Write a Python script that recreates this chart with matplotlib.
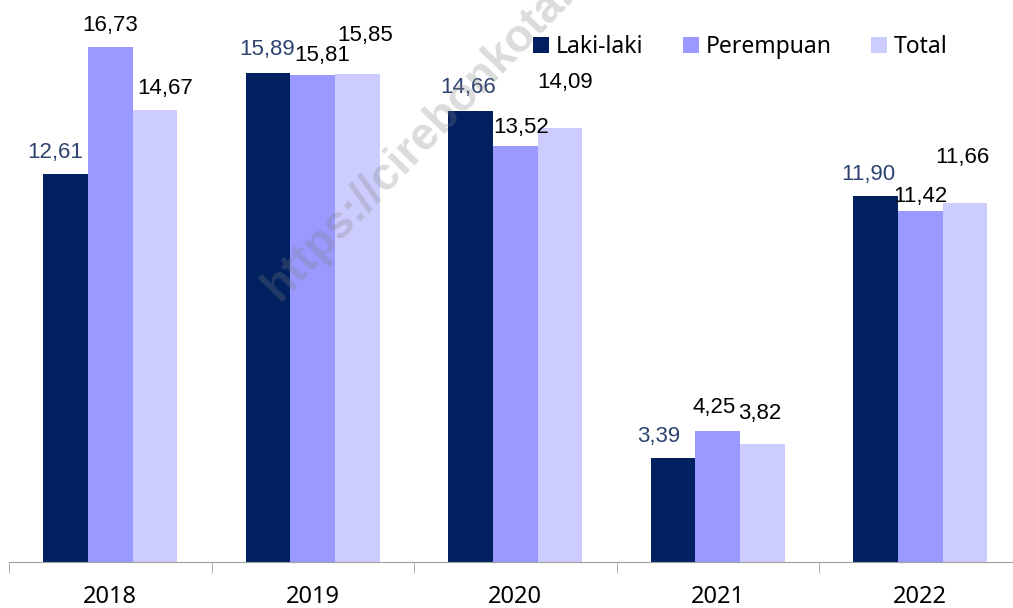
import numpy as np
import matplotlib.pyplot as plt

years = ['2018', '2019', '2020', '2021', '2022']
laki = [12.61, 15.89, 14.66, 3.39, 11.90]
perempuan = [16.73, 15.81, 13.52, 4.25, 11.42]
total = [14.67, 15.85, 14.09, 3.82, 11.66]

series = [('Laki-laki', laki, '#002060'),
          ('Perempuan', perempuan, '#9999FF'),
          ('Total', total, '#CCCCFF')]

# label offsets in pixels (dx, dy from bar top), like the hand-moved excel labels
offsets = [
    [(-10, 21), (-1, 23), (-2, 23), (-14, 21), (-7, 21)],
    [(0, 22), (9, 20), (6, 18), (-4, 24), (0, 14)],
    [(10, 22), (8, 39), (5, 46), (-3, 31), (-3, 46)],
]
label_colors = ['#2E4370', 'black', 'black']

fig = plt.figure(figsize=(10.13, 6.08), dpi=100)
ax = fig.add_axes([9 / 1013, 46 / 608, 1004 / 1013, 562 / 608])

x = np.arange(len(years))
w = 0.221
for i, (name, vals, col) in enumerate(series):
    pos = x + (i - 1) * w
    ax.bar(pos, vals, w, color=col, label=name, zorder=2)
    for j, v in enumerate(vals):
        dx, dy = offsets[i][j]
        ax.annotate(('%.2f' % v).replace('.', ','), (pos[j], v),
                    xytext=(dx, dy), textcoords='offset pixels',
                    ha='center', va='center', fontsize=16,
                    family='Liberation Sans', color=label_colors[i])

ax.set_xlim(-0.5, 4.458)
ax.set_ylim(0, 18.26)
for s in ['top', 'right', 'left']:
    ax.spines[s].set_visible(False)
ax.spines['bottom'].set_color('#A0A0A0')
ax.set_yticks([])
ax.set_xticks(x)
ax.set_xticklabels(years, fontsize=17, family='Noto Sans')
ax.tick_params(axis='x', which='major', length=0, pad=16.5)
ax.set_xticks(np.arange(-0.5, 4.5, 1), minor=True)
ax.tick_params(axis='x', which='minor', length=8, color='#A0A0A0')

ax.legend(loc='upper right', bbox_to_anchor=(0.955, 0.975), ncol=3, frameon=False,
          prop={'family': 'Noto Sans', 'size': 16.5},
          handlelength=0.7, handleheight=0.7, handletextpad=0.3,
          columnspacing=1.7)

fig.text(280 / 1013, (608 - 302) / 608, 'https://cirebonkota.bps.go.id',
         rotation=46, rotation_mode='anchor', ha='left', va='baseline',
         fontsize=33, fontweight='bold', family='Liberation Sans',
         color='#808080', alpha=0.28, zorder=10)

fig.savefig('out.png', dpi=100)
